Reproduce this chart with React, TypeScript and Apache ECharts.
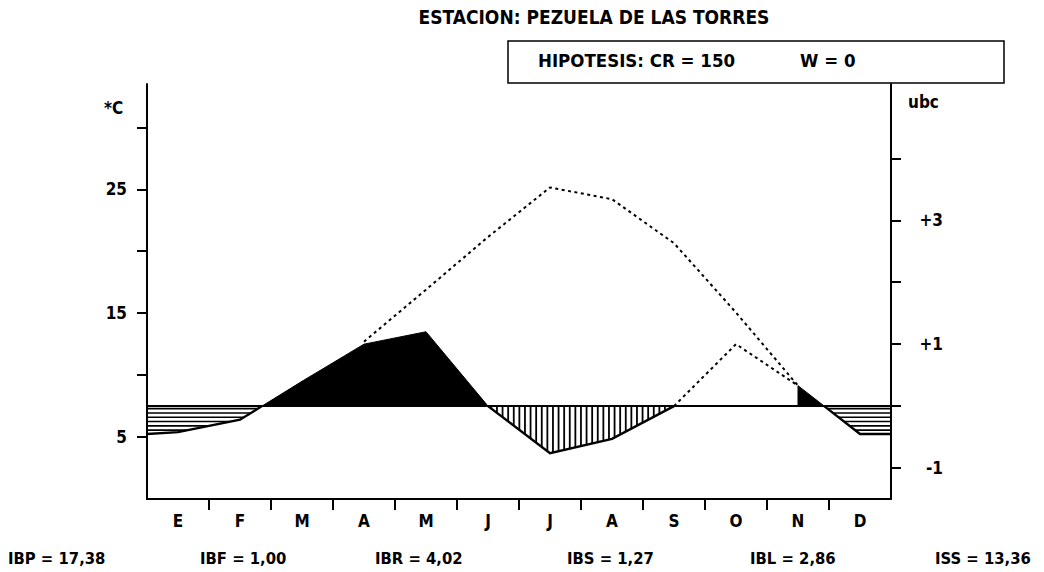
import React, { useEffect, useRef } from 'react';
import * as echarts from 'echarts';

// ---------- data ----------
const months = ['E', 'F', 'M', 'A', 'M', 'J', 'J', 'A', 'S', 'O', 'N', 'D'];
// potential bioclimatic intensity (ubc), mid-month values
const potential = [-0.42, -0.22, 0.4, 1.04, 1.88, 2.73, 3.53, 3.34, 2.63, 1.51, 0.33, -0.45];
// real bioclimatic intensity (ubc), mid-month values
const real = [-0.42, -0.22, 0.4, 1.0, 1.2, 0.0, -0.76, -0.53, 0.0, 1.0, 0.33, -0.45];
// curve values read at the start (1 Jan) and end (31 Dec) of the year
const yearEdges = [-0.45, -0.45];
const tempTicks = [5, 10, 15, 20, 25, 30];
const tempLabels = [5, 15, 25];
const ubcTicks = [-1, 0, 1, 2, 3, 4];
const ubcLabels = [-1, 1, 3];
const indexNames = ['IBP', 'IBF', 'IBR', 'IBS', 'IBL', 'ISS'];
const indexValues = [17.38, 1.0, 4.02, 1.27, 2.86, 13.36];
const stationName = 'PEZUELA DE LAS TORRES';
const crValue = 150;
const wValue = 0;

// ---------- layout / style ----------
const FONT = "'Liberation Sans Narrow', 'Arial Narrow', 'DejaVu Sans Condensed', 'Nimbus Sans Narrow', 'Liberation Sans', sans-serif";
const indexX = [8, 200, 375, 567, 750, 935];

function hatch(poly: number[][], step: number, vertical: boolean) {
  const a = vertical ? 0 : 1;
  const b = vertical ? 1 : 0;
  const vals = poly.map((p) => p[a]);
  const lo = Math.min(...vals);
  const hi = Math.max(...vals);
  const segs: number[][] = [];
  for (let s = lo + step * 0.6; s < hi; s += step) {
    const hits: number[] = [];
    for (let i = 0; i < poly.length; i++) {
      const p = poly[i];
      const q = poly[(i + 1) % poly.length];
      if ((p[a] <= s && q[a] > s) || (q[a] <= s && p[a] > s)) {
        hits.push(p[b] + ((q[b] - p[b]) * (s - p[a])) / (q[a] - p[a]));
      }
    }
    hits.sort((m, n) => m - n);
    for (let k = 0; k + 1 < hits.length; k += 2) {
      if (vertical) segs.push([s, hits[k], s, hits[k + 1]]);
      else segs.push([hits[k], s, hits[k + 1], s]);
    }
  }
  return segs;
}

export default function App() {
  const ref = useRef<HTMLDivElement>(null);

  useEffect(() => {
    if (!ref.current) return;
    const chart = echarts.init(ref.current, undefined, { renderer: 'svg' });

    const mid = months.map((_, i) => i + 0.5);
    const ext = (vals: number[]) => [[0, yearEdges[0]], ...mid.map((x, i) => [x, vals[i]]), [12, yearEdges[1]]];
    const potPts = ext(potential);
    const realPts = ext(real);
    const zeroAfter = (pts: number[][], i: number) => {
      const p = pts[i];
      const q = pts[i + 1];
      return p[0] + ((q[0] - p[0]) * (0 - p[1])) / (q[1] - p[1]);
    };
    const valueAt = (pts: number[][], x: number) => {
      for (let i = 0; i + 1 < pts.length; i++) {
        const p = pts[i];
        const q = pts[i + 1];
        if (x >= p[0] && x <= q[0]) return p[1] + ((q[1] - p[1]) * (x - p[0])) / (q[0] - p[0]);
      }
      return 0;
    };
    const curvePart = (pts: number[][], a: number, b: number) => [
      [a, valueAt(pts, a)],
      ...pts.filter((p) => p[0] > a && p[0] < b),
      [b, valueAt(pts, b)],
    ];

    // spans (in month units), indices in extended arrays: month i -> i + 1
    const coldL = [0, zeroAfter(potPts, 2)];
    const coldR = [zeroAfter(potPts, 11), 12];
    const free1 = [zeroAfter(realPts, 2), mid[5]];
    const dry = [mid[5], mid[8]];
    const free2 = [mid[10], zeroAfter(realPts, 11)];

    const renderItem = (_params: any, api: any) => {
      const P = (p: number[]) => api.coord(p);
      const children: any[] = [];
      const region = (pts: number[][], span: number[]) => {
        const c = curvePart(pts, span[0], span[1]);
        return { curve: c.map(P), poly: [[span[0], 0], ...c, [span[1], 0]].map(P) };
      };
      // black (free) areas
      [region(realPts, free1), region(realPts, free2)].forEach((r) => {
        children.push({ type: 'polygon', shape: { points: r.poly }, style: { fill: '#000', stroke: '#000', lineWidth: 1 } });
      });
      // cold areas: horizontal hatching
      [region(potPts, coldL), region(potPts, coldR)].forEach((r) => {
        hatch(r.poly, 4.3, false).forEach((s) => {
          children.push({ type: 'line', shape: { x1: s[0], y1: s[1], x2: s[2], y2: s[3] }, style: { stroke: '#000', lineWidth: 1.6 } });
        });
        children.push({ type: 'polyline', shape: { points: r.curve }, style: { stroke: '#000', fill: null, lineWidth: 2.4 } });
      });
      // dry area: vertical hatching
      const d = region(realPts, dry);
      hatch(d.poly, 5.6, true).forEach((s) => {
        children.push({ type: 'line', shape: { x1: s[0], y1: s[1], x2: s[2], y2: s[3] }, style: { stroke: '#000', lineWidth: 1.8 } });
      });
      children.push({ type: 'polyline', shape: { points: d.curve }, style: { stroke: '#000', fill: null, lineWidth: 2.4 } });
      // base line (0 ubc)
      const b0 = P([0, 0]);
      const b1 = P([12, 0]);
      children.push({ type: 'line', shape: { x1: b0[0], y1: b0[1], x2: b1[0], y2: b1[1] }, style: { stroke: '#000', lineWidth: 2 } });
      return { type: 'group', children };
    };

    const dotted = { color: '#000', width: 2, type: [3, 3.5] as any };
    const axisFont = { color: '#000', fontSize: 17, fontWeight: 'bold' as const, fontFamily: FONT };

    chart.setOption({
      animation: false,
      backgroundColor: '#fff',
      grid: { left: 147, right: 153, top: 84, bottom: 73 },
      xAxis: {
        type: 'value',
        min: 0,
        max: 12,
        axisLine: { show: true, onZero: false, lineStyle: { color: '#000', width: 2 } },
        axisTick: { show: true, customValues: months.slice(1).map((_, i) => i + 1), length: 11, lineStyle: { color: '#000', width: 2 } },
        axisLabel: {
          show: true,
          customValues: mid,
          formatter: (v: number) => months[Math.floor(v)],
          ...axisFont,
          margin: 13,
        },
        splitLine: { show: false },
      },
      yAxis: [
        {
          type: 'value',
          position: 'left',
          min: 0,
          max: 33.5,
          axisLine: { show: true, lineStyle: { color: '#000', width: 2 } },
          axisTick: { show: true, customValues: tempTicks, length: 10, lineStyle: { color: '#000', width: 2 } },
          axisLabel: { show: true, customValues: tempLabels, ...axisFont, margin: 20 },
          splitLine: { show: false },
        },
        {
          type: 'value',
          position: 'right',
          min: -1.5,
          max: 5.2,
          axisLine: { show: true, lineStyle: { color: '#000', width: 2 } },
          axisTick: { show: true, customValues: ubcTicks, length: 10, lineStyle: { color: '#000', width: 2 } },
          axisLabel: {
            show: true,
            customValues: ubcLabels,
            formatter: (v: number) => (v > 0 ? '+' + v : String(v)),
            ...axisFont,
            align: 'right',
            margin: 52,
          },
          splitLine: { show: false },
        },
      ],
      series: [
        { type: 'custom', coordinateSystem: 'cartesian2d', xAxisIndex: 0, yAxisIndex: 1, data: [[0, 0]], renderItem, clip: false, silent: true, z: 2 },
        {
          type: 'line',
          xAxisIndex: 0,
          yAxisIndex: 1,
          data: potential.map((v, i) => [mid[i], v]).slice(3, 11),
          symbol: 'none',
          lineStyle: dotted,
          silent: true,
          z: 3,
        },
        {
          type: 'line',
          xAxisIndex: 0,
          yAxisIndex: 1,
          data: real.map((v, i) => [mid[i], v]).slice(8, 11),
          symbol: 'none',
          lineStyle: dotted,
          silent: true,
          z: 3,
        },
      ],
      graphic: [
        { type: 'text', x: 594, y: 17, style: { text: 'ESTACION: ' + stationName, font: `bold 19px ${FONT}`, fill: '#000', align: 'center', verticalAlign: 'middle' } },
        { type: 'rect', shape: { x: 508, y: 41, width: 496, height: 42 }, style: { fill: 'none', stroke: '#000', lineWidth: 1.5 } },
        { type: 'text', x: 538, y: 60, style: { text: `HIPOTESIS: CR = ${crValue}`, font: `bold 18.5px ${FONT}`, fill: '#000', verticalAlign: 'middle' } },
        { type: 'text', x: 800, y: 60, style: { text: `W = ${wValue}`, font: `bold 18.5px ${FONT}`, fill: '#000', verticalAlign: 'middle' } },
        { type: 'text', x: 104, y: 108, style: { text: '*C', font: `bold 17px ${FONT}`, fill: '#000', verticalAlign: 'middle' } },
        { type: 'text', x: 908, y: 102, style: { text: 'ubc', font: `bold 17px ${FONT}`, fill: '#000', verticalAlign: 'middle' } },
        ...indexNames.map((n, i) => ({
          type: 'text',
          x: indexX[i],
          y: 558,
          style: { text: `${n} = ${indexValues[i].toFixed(2).replace('.', ',')}`, font: `bold 16.5px ${FONT}`, fill: '#000', verticalAlign: 'middle' },
        })),
      ],
    });

    return () => chart.dispose();
  }, []);

  return <div ref={ref} style={{ position: 'absolute', left: 0, top: 0, width: 1044, height: 572, background: '#fff' }} />;
}
